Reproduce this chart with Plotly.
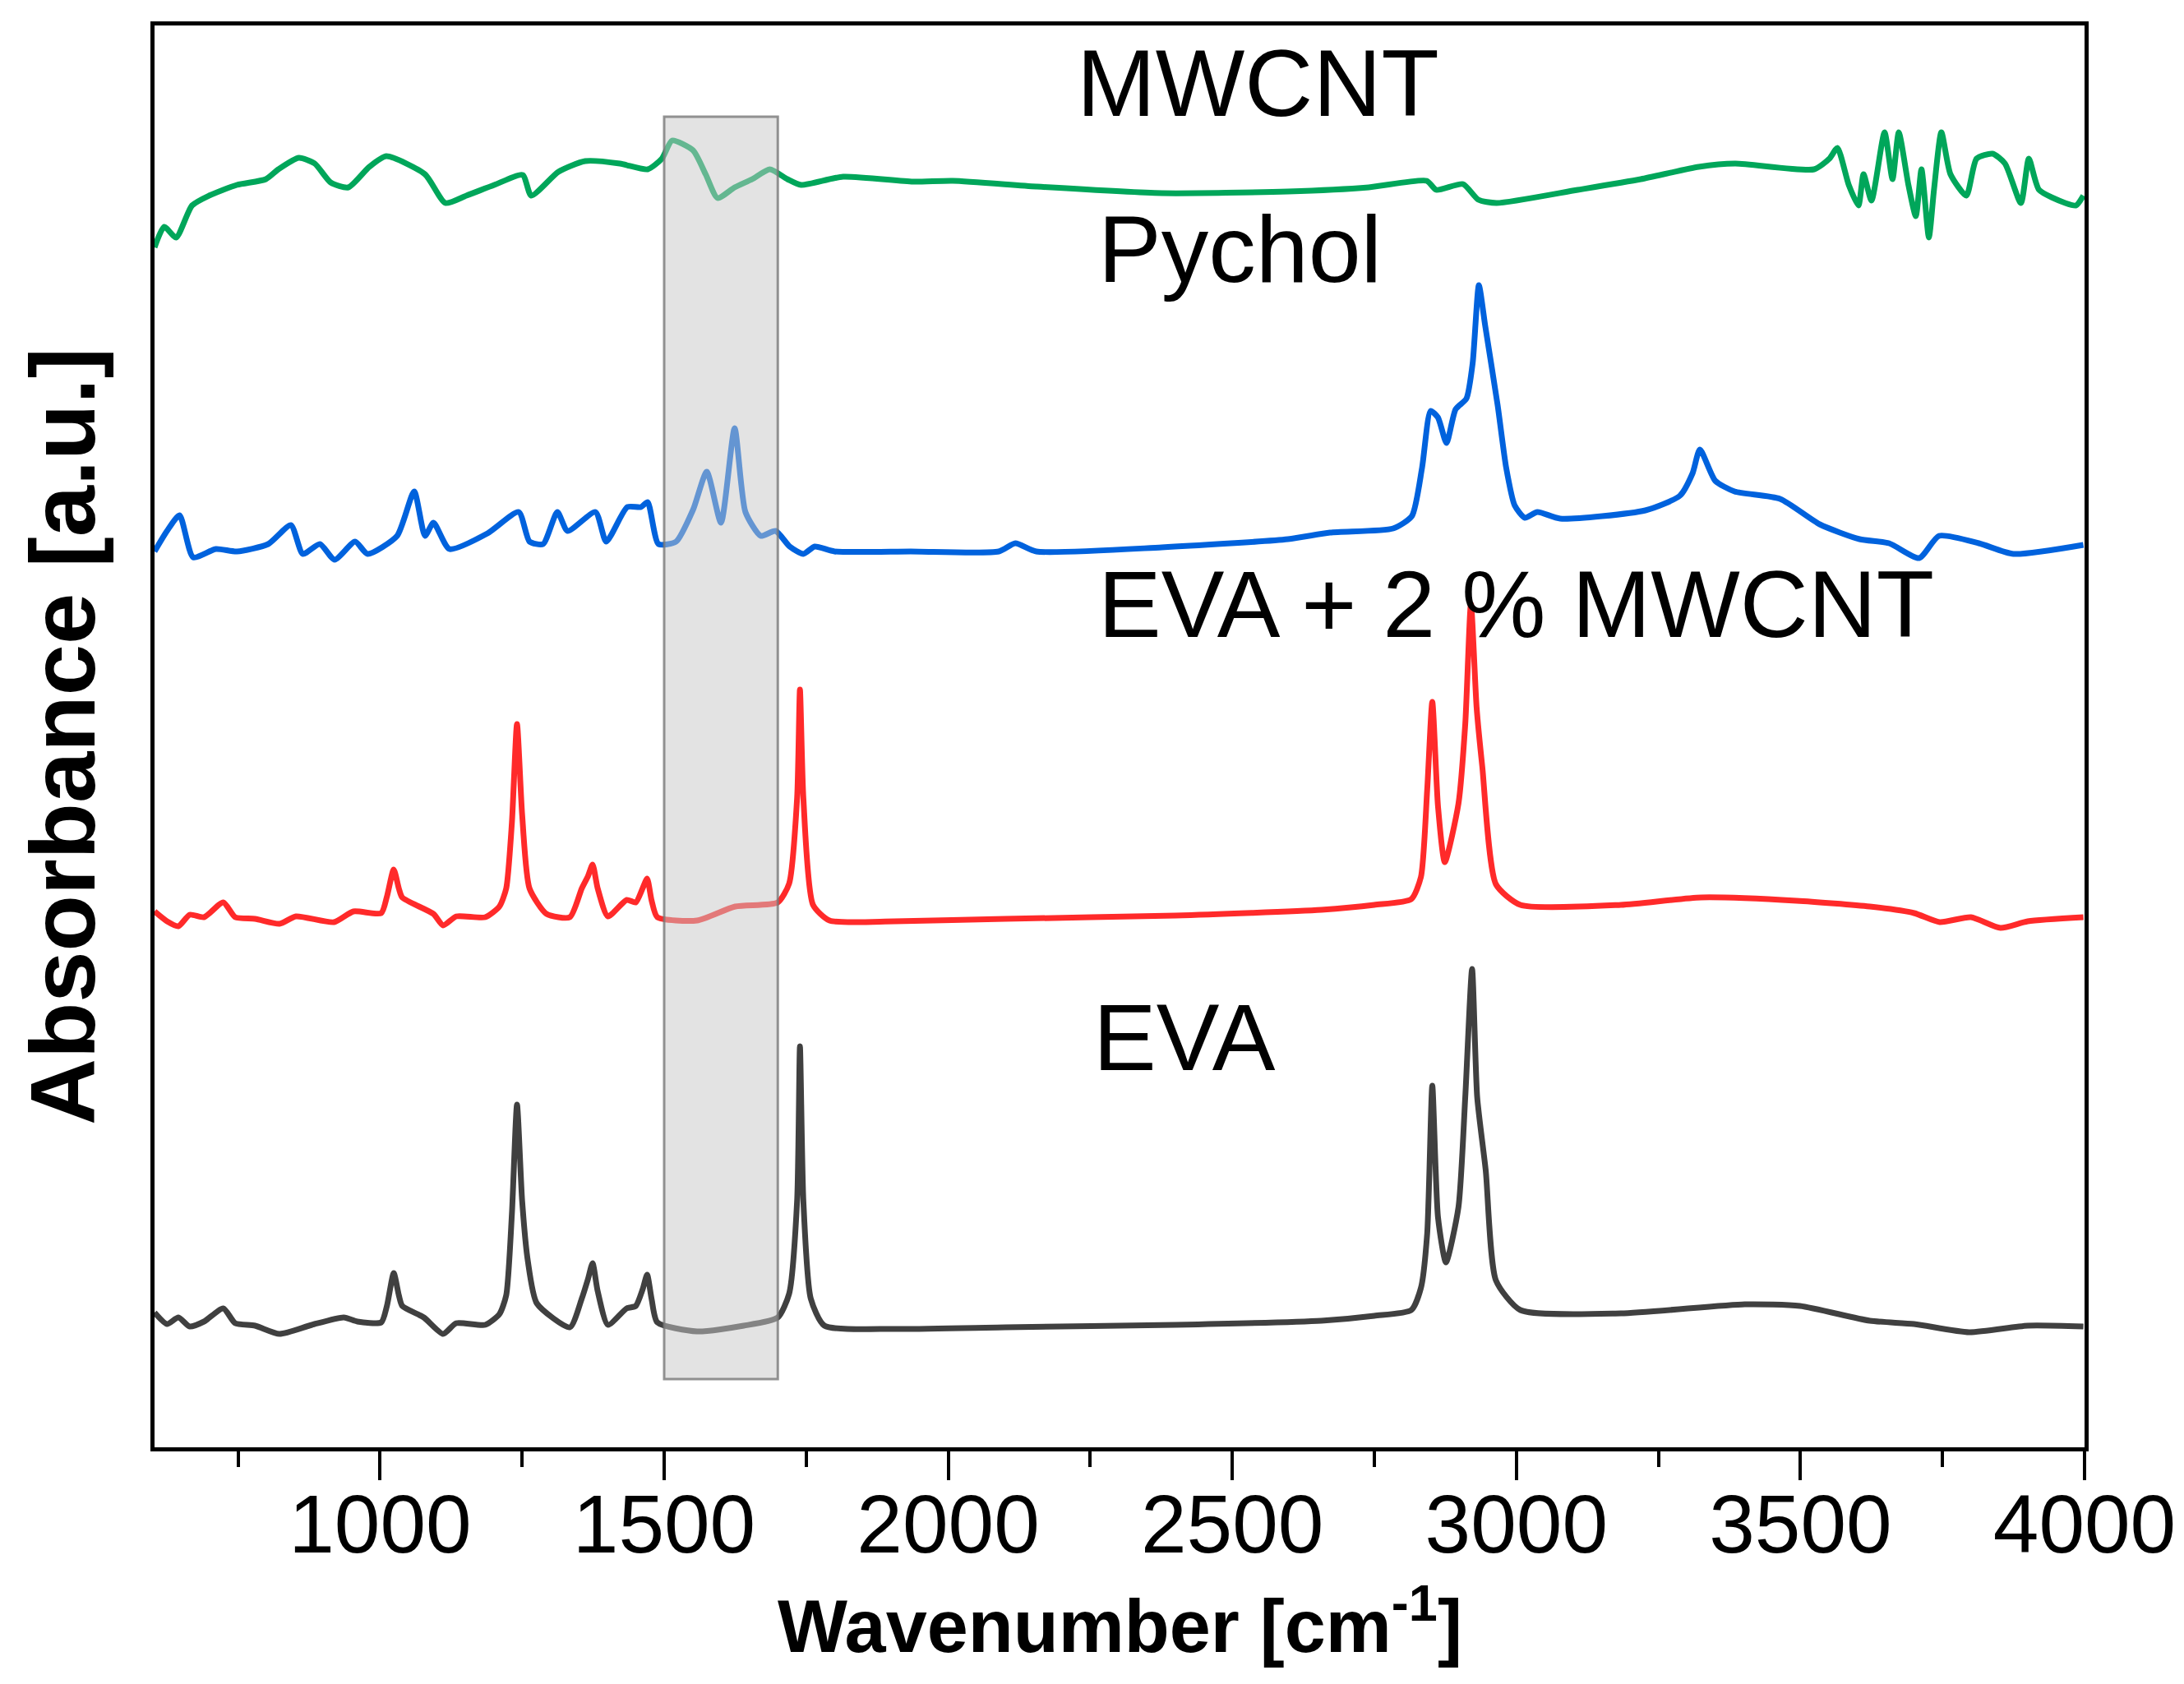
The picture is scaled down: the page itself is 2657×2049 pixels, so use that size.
import plotly.graph_objects as go

# ---- spectra (wavenumber in cm-1, absorbance in a.u., stacked) ----
eva_x = [603, 625, 645, 665, 690, 724, 745, 780, 823, 880, 936, 960, 1002, 1012, 1024, 1033,
         1039, 1077, 1111, 1134, 1185, 1210, 1222, 1232, 1241, 1250, 1260, 1276, 1334, 1355,
         1366, 1374, 1383, 1401, 1434, 1450, 1462, 1470, 1478, 1488, 1558, 1640, 1700, 1720,
         1734, 1739, 1745, 1758, 1782, 1906, 2100, 2400, 2657, 2750, 2815, 2832, 2843, 2852,
         2862, 2876, 2898, 2910, 2922, 2931, 2946, 2964, 3007, 3184, 3402, 3499, 3622, 3700,
         3797, 3900, 3998]
eva_y = [0.164, 0.150, 0.158, 0.147, 0.153, 0.169, 0.151, 0.148, 0.138, 0.149, 0.158, 0.153,
         0.152, 0.172, 0.212, 0.185, 0.172, 0.158, 0.138, 0.151, 0.149, 0.162, 0.185, 0.284,
         0.417, 0.300, 0.227, 0.175, 0.146, 0.181, 0.205, 0.224, 0.190, 0.149, 0.169, 0.172,
         0.192, 0.210, 0.180, 0.152, 0.141, 0.148, 0.158, 0.187, 0.300, 0.488, 0.300, 0.181,
         0.148, 0.144, 0.146, 0.149, 0.154, 0.160, 0.167, 0.194, 0.260, 0.440, 0.280, 0.225,
         0.292, 0.426, 0.582, 0.426, 0.337, 0.203, 0.167, 0.163, 0.174, 0.172, 0.154, 0.150,
         0.140, 0.148, 0.147]

evacnt_x = [603, 625, 645, 665, 690, 724, 745, 780, 823, 852, 919, 953, 1002, 1012, 1024, 1033,
            1039, 1094, 1111, 1134, 1185, 1210, 1222, 1232, 1241, 1250, 1263, 1293, 1334, 1355,
            1366, 1374, 1383, 1401, 1434, 1450, 1462, 1470, 1478, 1488, 1558, 1625, 1700, 1720,
            1734, 1739, 1745, 1762, 1791, 1906, 2100, 2400, 2657, 2750, 2815, 2832, 2843, 2852,
            2862, 2874, 2898, 2910, 2920, 2930, 2940, 2964, 3007, 3184, 3325, 3493, 3622, 3700,
            3745, 3800, 3852, 3900, 3998]
evacnt_y = [0.652, 0.640, 0.634, 0.648, 0.645, 0.663, 0.645, 0.643, 0.637, 0.646, 0.639, 0.652,
            0.650, 0.670, 0.703, 0.680, 0.669, 0.649, 0.635, 0.646, 0.645, 0.658, 0.680, 0.760,
            0.880, 0.770, 0.680, 0.649, 0.645, 0.680, 0.695, 0.709, 0.680, 0.646, 0.666, 0.663,
            0.680, 0.692, 0.665, 0.645, 0.641, 0.658, 0.663, 0.686, 0.790, 0.922, 0.790, 0.660,
            0.641, 0.640, 0.643, 0.647, 0.654, 0.660, 0.667, 0.694, 0.800, 0.907, 0.780, 0.712,
            0.783, 0.880, 1.026, 0.900, 0.828, 0.685, 0.660, 0.660, 0.669, 0.665, 0.658, 0.650,
            0.639, 0.645, 0.632, 0.640, 0.645]

pychol_x = [603, 625, 647, 671, 711, 748, 803, 843, 864, 894, 920, 956, 978, 1030, 1060, 1079,
            1094, 1122, 1189, 1244, 1263, 1287, 1312, 1330, 1379, 1398, 1435, 1459, 1471, 1490,
            1521, 1551, 1575, 1600, 1624, 1643, 1670, 1696, 1721, 1745, 1765, 1800, 1934, 2089,
            2118, 2155, 2376, 2598, 2672, 2783, 2816, 2834, 2849, 2862, 2877, 2893, 2912, 2923,
            2934, 2945, 2967, 2982, 2997, 3015, 3037, 3077, 3227, 3288, 3310, 3323, 3350, 3384,
            3464, 3534, 3604, 3656, 3709, 3744, 3814, 3875, 3998]
pychol_y = [1.090, 1.115, 1.134, 1.083, 1.093, 1.090, 1.099, 1.122, 1.087, 1.099, 1.080, 1.102,
            1.087, 1.109, 1.163, 1.109, 1.125, 1.093, 1.112, 1.138, 1.102, 1.099, 1.138, 1.115,
            1.138, 1.102, 1.144, 1.144, 1.150, 1.099, 1.102, 1.141, 1.187, 1.125, 1.240, 1.138,
            1.109, 1.115, 1.096, 1.087, 1.096, 1.090, 1.090, 1.090, 1.100, 1.090, 1.095, 1.105,
            1.113, 1.118, 1.133, 1.192, 1.261, 1.253, 1.222, 1.263, 1.276, 1.319, 1.414, 1.365,
            1.268, 1.192, 1.146, 1.131, 1.138, 1.130, 1.140, 1.158, 1.185, 1.214, 1.176, 1.163,
            1.154, 1.123, 1.105, 1.100, 1.082, 1.109, 1.100, 1.087, 1.098]

mwcnt_x = [603, 620, 641, 669, 699, 748, 799, 821, 857, 885, 913, 944, 981, 1011, 1079, 1115,
           1152, 1201, 1251, 1266, 1314, 1361, 1422, 1471, 1496, 1514, 1551, 1573, 1594, 1624,
           1655, 1686, 1717, 1741, 1815, 1938, 2008, 2155, 2376, 2598, 2740, 2842, 2859, 2906,
           2933, 2965, 3108, 3219, 3321, 3385, 3524, 3551, 3565, 3585, 3602, 3611, 3625, 3648,
           3662, 3673, 3690, 3703, 3713, 3726, 3735, 3748, 3764, 3792, 3810, 3838, 3860, 3888,
           3902, 3920, 3966, 3985, 3998]
mwcnt_y = [1.460, 1.485, 1.472, 1.511, 1.523, 1.536, 1.543, 1.555, 1.569, 1.562, 1.539, 1.533,
           1.558, 1.571, 1.549, 1.514, 1.523, 1.536, 1.548, 1.523, 1.552, 1.565, 1.562, 1.555,
           1.568, 1.590, 1.578, 1.549, 1.520, 1.533, 1.543, 1.555, 1.543, 1.536, 1.546, 1.540,
           1.541, 1.534, 1.526, 1.528, 1.533, 1.541, 1.530, 1.537, 1.518, 1.514, 1.530, 1.543,
           1.558, 1.562, 1.555, 1.568, 1.581, 1.536, 1.511, 1.549, 1.517, 1.600, 1.543, 1.600,
           1.536, 1.498, 1.555, 1.472, 1.530, 1.600, 1.549, 1.523, 1.568, 1.574, 1.562, 1.514,
           1.568, 1.530, 1.514, 1.511, 1.523]

labels = ['MWCNT', 'Pychol', 'EVA + 2 % MWCNT', 'EVA']
label_x = [2223, 2261, 2261, 2252]
label_y = [1.660, 1.458, 1.026, 0.499]

band = (1500, 1700)

FONT = 'Arial, Liberation Sans, sans-serif'

fig = go.Figure()

series = [
    (eva_x, eva_y, 'EVA', '#404040'),
    (evacnt_x, evacnt_y, 'EVA + 2 % MWCNT', '#ff2a2a'),
    (pychol_x, pychol_y, 'Pychol', '#0062dd'),
    (mwcnt_x, mwcnt_y, 'MWCNT', '#00a65a'),
]
for xs, ys, name, col in series:
    fig.add_trace(go.Scatter(x=xs, y=ys, name=name, mode='lines',
                             line=dict(color=col, width=7, shape='spline', smoothing=0.6)))

# shaded band over 1500-1700 cm-1
fig.add_shape(type='rect', xref='x', yref='y', x0=band[0], x1=band[1], y0=0.083, y1=1.619,
              fillcolor='rgba(200,200,200,0.5)', line=dict(color='rgba(120,120,120,0.8)', width=3),
              layer='above')

for txt, lx, ly in zip(labels, label_x, label_y):
    fig.add_annotation(x=lx, y=ly, xref='x', yref='y', text=txt, showarrow=False,
                       xanchor='left', yanchor='middle',
                       font=dict(family=FONT, size=115, color='black'))

# axis titles
fig.add_annotation(x=0.5, y=-0.122, xref='paper', yref='paper',
                   text='<b>Wavenumber [cm<sup>-1</sup>]</b>', showarrow=False,
                   xanchor='center', yanchor='middle',
                   font=dict(family=FONT, size=90, color='black'))
fig.add_annotation(x=-0.0477, y=0.5, xref='paper', yref='paper',
                   text='<b>Absorbance [a.u.]</b>', showarrow=False, textangle=-90,
                   xanchor='center', yanchor='middle',
                   font=dict(family=FONT, size=112, color='black'))

fig.update_layout(
    width=2657, height=2049,
    margin=dict(l=180, r=129, t=23, b=296),
    plot_bgcolor='white', paper_bgcolor='white',
    showlegend=False,
    font=dict(family=FONT, color='black'),
)
fig.update_xaxes(range=[603, 4000], tick0=0, dtick=500, ticks='outside', ticklen=35,
                 tickwidth=4, tickcolor='black', showline=True, linewidth=5, linecolor='black',
                 mirror=True, showgrid=False, zeroline=False, ticklabelstandoff=-32,
                 tickfont=dict(family=FONT, size=100, color='black'),
                 minor=dict(dtick=250, ticks='outside', ticklen=19, tickwidth=4, tickcolor='black'))
fig.update_yaxes(range=[0, 1.73], showticklabels=False, ticks='', showline=True, linewidth=5,
                 linecolor='black', mirror=True, showgrid=False, zeroline=False)

fig.write_html('out.html')
